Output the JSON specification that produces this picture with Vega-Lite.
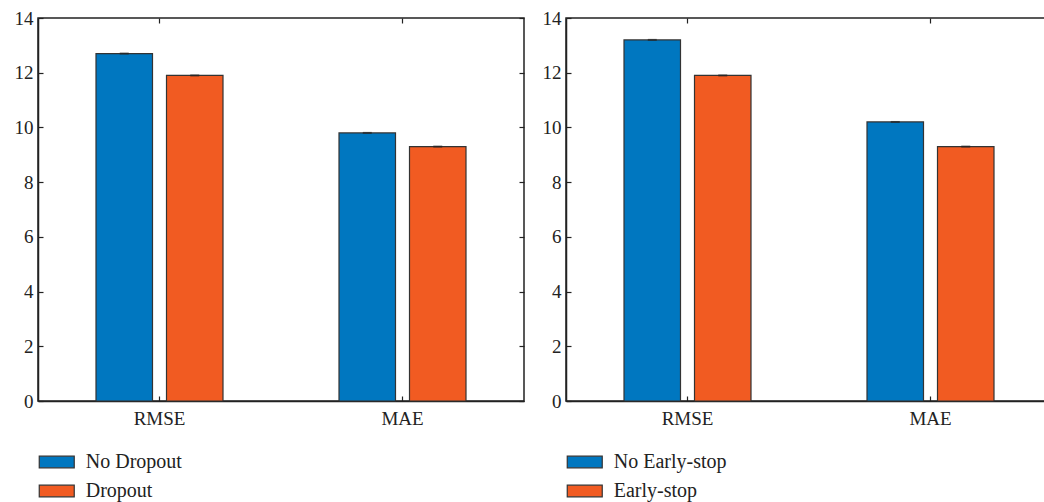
{
  "$schema": "https://vega.github.io/schema/vega-lite/v6.json",
  "padding": {"left": 13, "top": 8, "right": 0, "bottom": 0},
  "background": "white",
  "spacing": 15,
  "config": {
    "font": "Liberation Serif",
    "view": {"stroke": "#222", "strokeWidth": 1.5},
    "axis": {
      "domainColor": "#222", "domainWidth": 1.5, "tickColor": "#222", "tickWidth": 1.2,
      "labelFont": "Liberation Serif", "labelFontSize": 19, "labelFontWeight": "normal", "labelColor": "#222",
      "grid": false, "title": null
    },
    "legend": {"labelFont": "Liberation Serif", "labelFontSize": 20, "labelFontWeight": "normal", "labelColor": "#222"}
  },
  "resolve": {"scale": {"color": "independent"}},
  "hconcat": [
    {
      "width": 486, "height": 383,
      "data": {"values": [
        {"metric": "RMSE", "method": "No Dropout", "value": 12.7},
        {"metric": "RMSE", "method": "Dropout", "value": 11.9},
        {"metric": "MAE", "method": "No Dropout", "value": 9.8},
        {"metric": "MAE", "method": "Dropout", "value": 9.3}
      ]},
      "encoding": {
        "x": {"field": "metric", "type": "nominal", "sort": ["RMSE", "MAE"],
          "scale": {"paddingInner": 0, "paddingOuter": 0}, "axis": null},
        "y": {"field": "value", "type": "quantitative",
          "scale": {"domain": [0, 14], "nice": false}, "axis": null},
        "color": {"field": "method", "type": "nominal",
          "scale": {"domain": ["No Dropout", "Dropout"], "range": ["#0077C0", "#F15B22"]},
          "legend": {"orient": "none", "legendX": 8.75, "legendY": 434, "title": null, "direction": "vertical",
            "symbolType": "M-2,-0.67L2,-0.67L2,0.67L-2,0.67Z", "symbolSize": 306,
            "symbolStrokeColor": "#333", "symbolStrokeWidth": 1.2, "symbolOpacity": 1,
            "labelFont": "Liberation Serif", "labelFontSize": 20,
            "labelOffset": 19, "rowPadding": 9, "padding": 0}}
      },
      "resolve": {"axis": {"x": "independent", "y": "independent"}},
      "layer": [
        {
          "transform": [{"filter": "datum.method === 'No Dropout'"}],
          "mark": {"type": "bar", "stroke": "#333", "strokeWidth": 1.2, "width": {"band": 0.2325}, "xOffset": -35.25},
          "encoding": {
            "x": {"field": "metric", "type": "nominal", "sort": ["RMSE", "MAE"],
              "axis": {"orient": "bottom", "tickSize": -5, "labelPadding": 13, "labelAngle": 0}},
            "y": {"field": "value", "type": "quantitative",
              "axis": {"orient": "left", "values": [0, 2, 4, 6, 8, 10, 12, 14], "tickSize": -5, "labelPadding": 10}}
          }
        },
        {
          "transform": [{"filter": "datum.method === 'Dropout'"}],
          "mark": {"type": "bar", "stroke": "#333", "strokeWidth": 1.2, "width": {"band": 0.2325}, "xOffset": 35.25}
        },
        {
          "transform": [{"filter": "datum.method === 'No Dropout'"}],
          "mark": {"type": "tick", "thickness": 2, "size": 9, "xOffset": -35.25},
          "encoding": {"color": {"value": "#222"}}
        },
        {
          "transform": [{"filter": "datum.method === 'Dropout'"}],
          "mark": {"type": "tick", "thickness": 2, "size": 9, "xOffset": 35.25},
          "encoding": {
            "color": {"value": "#222"},
            "x": {"field": "metric", "type": "nominal", "sort": ["RMSE", "MAE"],
              "axis": {"orient": "top", "labels": false, "domain": false, "tickSize": -5}},
            "y": {"field": "value", "type": "quantitative",
              "axis": {"orient": "right", "labels": false, "domain": false, "tickSize": -5, "values": [0, 2, 4, 6, 8, 10, 12, 14]}}
          }
        }
      ]
    },
    {
      "width": 486, "height": 383,
      "data": {"values": [
        {"metric": "RMSE", "method": "No Early-stop", "value": 13.2},
        {"metric": "RMSE", "method": "Early-stop", "value": 11.9},
        {"metric": "MAE", "method": "No Early-stop", "value": 10.2},
        {"metric": "MAE", "method": "Early-stop", "value": 9.3}
      ]},
      "encoding": {
        "x": {"field": "metric", "type": "nominal", "sort": ["RMSE", "MAE"],
          "scale": {"paddingInner": 0, "paddingOuter": 0}, "axis": null},
        "y": {"field": "value", "type": "quantitative",
          "scale": {"domain": [0, 14], "nice": false}, "axis": null},
        "color": {"field": "method", "type": "nominal",
          "scale": {"domain": ["No Early-stop", "Early-stop"], "range": ["#0077C0", "#F15B22"]},
          "legend": {"orient": "none", "legendX": 8.75, "legendY": 434, "title": null, "direction": "vertical",
            "symbolType": "M-2,-0.67L2,-0.67L2,0.67L-2,0.67Z", "symbolSize": 306,
            "symbolStrokeColor": "#333", "symbolStrokeWidth": 1.2, "symbolOpacity": 1,
            "labelFont": "Liberation Serif", "labelFontSize": 20,
            "labelOffset": 19, "rowPadding": 9, "padding": 0}}
      },
      "resolve": {"axis": {"x": "independent", "y": "independent"}},
      "layer": [
        {
          "transform": [{"filter": "datum.method === 'No Early-stop'"}],
          "mark": {"type": "bar", "stroke": "#333", "strokeWidth": 1.2, "width": {"band": 0.2325}, "xOffset": -35.25},
          "encoding": {
            "x": {"field": "metric", "type": "nominal", "sort": ["RMSE", "MAE"],
              "axis": {"orient": "bottom", "tickSize": -5, "labelPadding": 13, "labelAngle": 0}},
            "y": {"field": "value", "type": "quantitative",
              "axis": {"orient": "left", "values": [0, 2, 4, 6, 8, 10, 12, 14], "tickSize": -5, "labelPadding": 10}}
          }
        },
        {
          "transform": [{"filter": "datum.method === 'Early-stop'"}],
          "mark": {"type": "bar", "stroke": "#333", "strokeWidth": 1.2, "width": {"band": 0.2325}, "xOffset": 35.25}
        },
        {
          "transform": [{"filter": "datum.method === 'No Early-stop'"}],
          "mark": {"type": "tick", "thickness": 2, "size": 9, "xOffset": -35.25},
          "encoding": {"color": {"value": "#222"}}
        },
        {
          "transform": [{"filter": "datum.method === 'Early-stop'"}],
          "mark": {"type": "tick", "thickness": 2, "size": 9, "xOffset": 35.25},
          "encoding": {
            "color": {"value": "#222"},
            "x": {"field": "metric", "type": "nominal", "sort": ["RMSE", "MAE"],
              "axis": {"orient": "top", "labels": false, "domain": false, "tickSize": -5}},
            "y": {"field": "value", "type": "quantitative",
              "axis": {"orient": "right", "labels": false, "domain": false, "tickSize": -5, "values": [0, 2, 4, 6, 8, 10, 12, 14]}}
          }
        }
      ]
    }
  ]
}
